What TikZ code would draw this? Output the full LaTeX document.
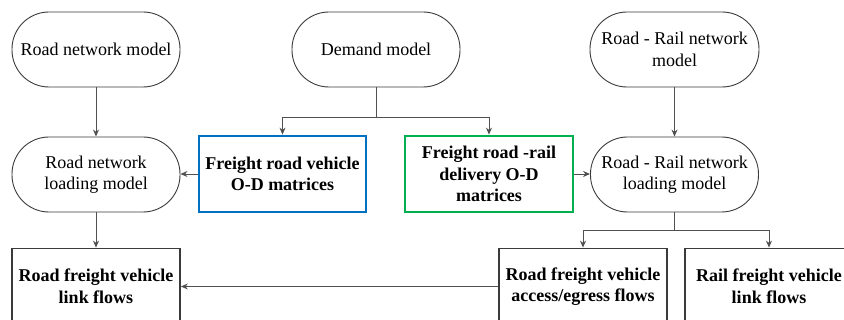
\documentclass[tikz,border=0pt]{standalone}
\usepackage{fontspec}
\setmainfont{LiberationSerif-Regular.ttf}[BoldFont=LiberationSerif-Bold.ttf]
\usetikzlibrary{arrows.meta}
\definecolor{edgegray}{HTML}{3A3A3A}
\definecolor{arrowgray}{HTML}{505050}
\definecolor{boxblue}{HTML}{0070C0}
\definecolor{boxgreen}{HTML}{00B050}
\begin{document}
\begin{tikzpicture}[x=1pt,y=-1pt,
  every node/.style={font=\fontsize{18}{21.5}\selectfont, align=center, inner sep=0pt},
  model/.style={draw=edgegray, line width=0.9pt, rectangle, rounded corners=37pt, minimum height=75pt},
  outbox/.style={draw=edgegray, line width=1.8pt, rectangle, minimum height=76pt, font=\fontsize{18}{21.5}\selectfont\bfseries},
  odbox/.style={line width=2.8pt, rectangle, minimum height=76pt, font=\fontsize{18}{21.5}\selectfont\bfseries},
  conn/.style={draw=arrowgray, line width=0.9pt},
  arr/.style={conn, -{Stealth[length=7pt,width=6pt]}}
]
\useasboundingbox (0,0) rectangle (844,320);
\node[model, minimum width=168pt] (rnm) at (96,49.5) {Road network model};
\node[model, minimum width=168pt] (dm) at (376,49.5) {Demand model};
\node[model, minimum width=169pt] (rrnm) at (674.5,49.5) {Road - Rail network\\model};
\node[model, minimum width=168pt] (rnl) at (96,174.5) {Road network\\loading model};
\node[odbox, draw=boxblue, minimum width=167pt] (blue) at (282.5,174) {Freight road vehicle\\O-D matrices};
\node[odbox, draw=boxgreen, minimum width=168pt] (green) at (489,174) {Freight road -rail\\delivery O-D\\matrices};
\node[model, minimum width=168pt] (rrnl) at (674.5,174.5) {Road - Rail network\\loading model};
\node[outbox, minimum width=168pt] (rlf) at (96,286.5) {Road freight vehicle\\link flows};
\node[outbox, minimum width=168pt] (acc) at (583,286.5) {Road freight vehicle\\access/egress flows};
\node[outbox, minimum width=168pt] (rail) at (769,286.5) {Rail freight vehicle\\link flows};
\coordinate (dj) at (376,117);
\coordinate (rj) at (674.5,230);
\draw[arr] (rnm) -- (rnl);
\draw[conn] (dm.south) -- (dj);
\draw[arr] (dj) -| (blue.north);
\draw[arr] (dj) -| (green.north);
\draw[arr] (rrnm) -- (rrnl);
\draw[arr] (blue.west) -- (rnl.east |- blue.west);
\draw[arr] (green.east) -- (rrnl.west |- green.east);
\draw[arr] (rnl) -- (rlf);
\draw[conn] (rrnl.south) -- (rj);
\draw[arr] (rj) -| (acc.north);
\draw[arr] (rj) -| (rail.north);
\draw[arr] (acc.west) -- (rlf.east);
\end{tikzpicture}
\end{document}
